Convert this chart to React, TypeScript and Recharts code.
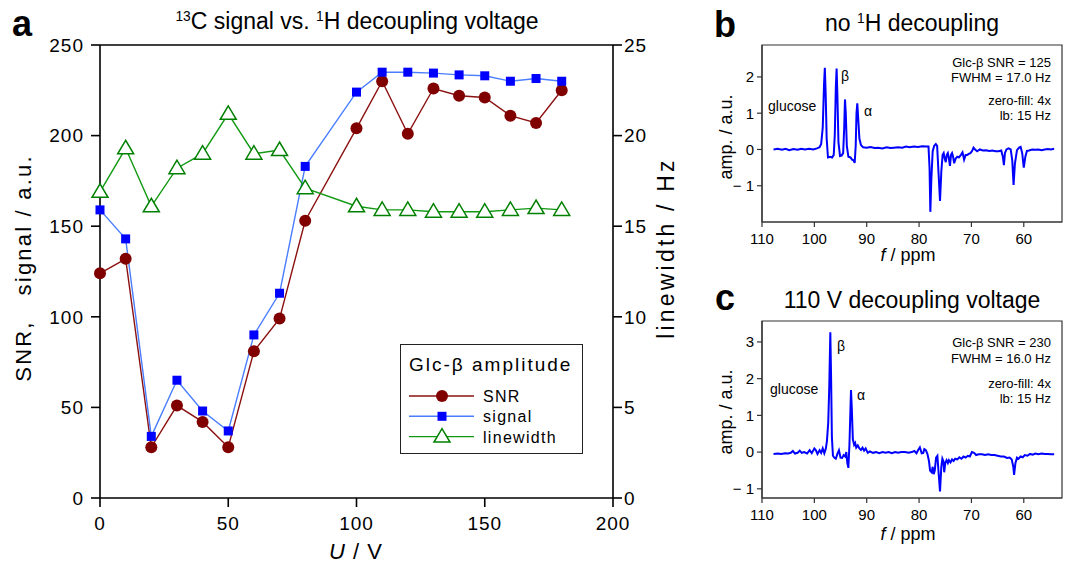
import React from 'react';
import { LineChart, Line, XAxis, YAxis, ReferenceArea, ReferenceLine, Legend } from 'recharts';

// panel a: Glc-beta amplitude vs decoupling voltage
const voltage = [0, 10, 20, 30, 40, 50, 60, 70, 80, 100, 110, 120, 130, 140, 150, 160, 170, 180];
const snr = [124, 132, 28, 51, 42, 28, 81, 99, 153, 204, 230, 201, 226, 222, 221, 211, 207, 225];
const signal = [159, 143, 34, 65, 48, 37, 90, 113, 183, 224, 235, 235, 234.5, 233.5, 233, 230, 231.5, 230];
const linewidth = [16.9, 19.3, 16.1, 18.2, 19.0, 21.2, 19.0, 19.2, 17.1, 16.1, 15.9, 15.9, 15.8, 15.8, 15.8, 15.9, 16.0, 15.9];

const voltTicks = [0, 50, 100, 150, 200];
const leftTicks = [0, 50, 100, 150, 200, 250];
const rightTicks = [0, 5, 10, 15, 20, 25];

// panel b: spectrum without 1H decoupling
const ppmB = [
  107.8, 107.0, 106.2, 105.5, 104.8, 104.0, 103.2, 102.5, 101.8, 101.0, 100.2, 99.5, 99.0, 98.7, 98.4, 98.15, 98.0,
  97.85, 97.65, 97.4, 97.0, 96.6, 96.3, 96.1, 95.9, 95.75, 95.6, 95.4, 95.1, 94.8, 94.5, 94.3, 94.15, 94.0, 93.8,
  93.5, 93.1, 92.8, 92.5, 92.3, 92.1, 91.95, 91.8, 91.6, 91.4, 91.1, 90.7, 90.0, 89.3, 88.5, 87.8, 87.0, 86.2, 85.5,
  84.8, 84.0, 83.2, 82.5, 81.8, 81.0, 80.2, 79.4, 78.6, 78.2, 78.0, 77.85, 77.65, 77.4, 77.1, 76.8, 76.55, 76.3,
  76.0, 75.75, 75.5, 75.3, 75.1, 74.9, 74.7, 74.5, 74.3, 74.1, 73.9, 73.7, 73.5, 73.3, 73.0, 72.7, 72.4, 72.0, 71.7,
  71.4, 71.1, 70.8, 70.5, 70.2, 69.9, 69.6, 69.3, 68.9, 68.4, 67.8, 67.2, 66.6, 66.0, 65.4, 64.8, 64.3, 64.0, 63.8,
  63.6, 63.3, 62.9, 62.5, 62.2, 61.95, 61.7, 61.3, 60.9, 60.6, 60.3, 60.0, 59.7, 59.4, 59.0, 58.4, 57.8, 57.2, 56.6,
  56.0, 55.4, 54.8, 54.2,
];
const ampB = [
  0.0, 0.02, -0.01, 0.02, -0.02, 0.01, -0.01, 0.02, 0.0, 0.02, 0.0, 0.03, 0.06, 0.15, 0.6, 1.8, 2.25,
  1.6, 0.3, -0.22, -0.2, -0.22, -0.15, 0.4, 1.7, 2.23, 1.5, 0.2, -0.18, -0.17, -0.1, 0.6, 1.38, 1.0, 0.1,
  -0.2, -0.22, -0.28, -0.3, -0.37, 0.1, 1.0, 1.27, 0.8, 0.3, 0.12, 0.06, 0.05, 0.07, 0.04, 0.05, 0.03, 0.06, 0.04,
  0.05, 0.06, 0.05, 0.08, 0.06, 0.08, 0.07, 0.09, 0.08, 0.08, -0.5, -1.72, -0.8, -0.05, 0.1, 0.15, 0.1, -0.6,
  -1.42, -0.6, -0.15, -0.1, -0.25, -0.35, -0.15, -0.1, -0.25, -0.45, -0.15, -0.1, -0.2, -0.38, -0.25, -0.2, -0.22, -0.15, -0.08,
  -0.28, -0.15, -0.15, -0.12, -0.1, -0.05, 0.05, 0.0, -0.05, 0.0, -0.03, -0.02, -0.04, -0.03, -0.05, -0.05, -0.03, -0.2, -0.43,
  -0.1, 0.0, 0.03, 0.0, -0.3, -0.98, -0.4, -0.02, 0.05, 0.07, -0.1, -0.5, -0.2, -0.04, -0.03, 0.0, -0.01, 0.0, -0.02,
  0.0, 0.01, 0.0, 0.02,
];

// panel c: spectrum at 110 V decoupling
const ppmC = [
  107.8, 107.0, 106.3, 105.6, 105.0, 104.5, 104.1, 103.7, 103.2, 102.8, 102.4, 101.9, 101.4, 100.9, 100.5, 100.0,
  99.7, 99.4, 99.0, 98.7, 98.4, 98.1, 97.8, 97.6, 97.35, 97.15, 96.95, 96.8, 96.65, 96.45, 96.2, 95.9, 95.6, 95.3,
  95.0, 94.7, 94.4, 94.1, 93.9, 93.7, 93.5, 93.3, 93.1, 93.0, 92.85, 92.65, 92.4, 92.2, 92.0, 91.7, 91.4, 91.1, 90.8,
  90.5, 90.2, 89.8, 89.4, 88.8, 88.2, 87.6, 87.0, 86.4, 85.8, 85.2, 84.6, 84.0, 83.4, 82.7, 82.0, 81.4, 80.9, 80.5,
  80.2, 79.85, 79.5, 79.2, 79.0, 78.7, 78.4, 78.1, 77.9, 77.6, 77.4, 77.2, 77.0, 76.75, 76.5, 76.3, 76.0, 75.75,
  75.55, 75.35, 75.2, 75.0, 74.75, 74.5, 74.3, 74.0, 73.7, 73.4, 73.1, 72.7, 72.3, 71.9, 71.5, 71.1, 70.7, 70.3,
  69.9, 69.5, 69.1, 68.6, 68.0, 67.4, 66.8, 66.2, 65.6, 65.0, 64.4, 63.8, 63.2, 62.7, 62.3, 62.0, 61.85, 61.6, 61.3,
  61.0, 60.6, 60.2, 59.8, 59.3, 58.8, 58.3, 57.8, 57.2, 56.6, 56.0, 55.4, 54.8, 54.2,
];
const ampC = [
  -0.05, -0.04, -0.05, -0.03, -0.04, -0.02, 0.03, -0.04, -0.02, 0.04, -0.02, 0.0, -0.04, 0.05, -0.03, 0.1,
  0.05, -0.05, 0.05, -0.02, 0.1, -0.03, 0.1, 0.3, 0.8, 1.8, 3.26, 2.0, 0.4, -0.1, -0.15, -0.18, -0.05, 0.05,
  -0.15, -0.16, -0.08, -0.12, 0.0, -0.3, -0.43, 0.2, 1.2, 1.69, 1.2, 0.35, 0.2, 0.25, 0.12, 0.18, 0.1, 0.06, 0.12,
  0.04, 0.1, -0.02, 0.02, -0.02, 0.0, -0.03, 0.0, -0.02, 0.0, -0.03, 0.0, -0.02, 0.0, 0.0, -0.02, 0.0, 0.03, -0.03,
  0.05, 0.13, -0.03, -0.02, 0.08, 0.05, -0.05, -0.25, -0.5, -0.55, -0.4, -0.6, -0.5, -0.15, -0.1, -0.5, -1.07, -0.4,
  -0.18, -0.25, -0.55, -0.3, -0.22, -0.3, -0.22, -0.28, -0.2, -0.24, -0.18, -0.2, -0.14, -0.18, -0.12, -0.15, -0.1, -0.12,
  0.0, -0.02, -0.08, -0.06, -0.06, -0.08, -0.06, -0.08, -0.08, -0.1, -0.12, -0.12, -0.16, -0.15, -0.2, -0.4, -0.62, -0.3, -0.15,
  -0.18, -0.12, -0.14, -0.08, -0.1, -0.05, -0.07, -0.04, -0.06, -0.04, -0.05, -0.05, -0.06, -0.06,
];

const ppmTicks = [60, 70, 80, 90, 100, 110];
const ampTicksB = [-1, 0, 1, 2];
const ampTicksC = [-1, 0, 1, 2, 3];

const FONT = '"Liberation Sans", Arial, Helvetica, sans-serif';
const FRAME = '#333';

const sweep = voltage.map((u, i) => ({ u, snr: snr[i], signal: signal[i], linewidth: linewidth[i] }));
const specB = ppmB.map((ppm, i) => ({ ppm, amp: ampB[i] }));
const specC = ppmC.map((ppm, i) => ({ ppm, amp: ampC[i] }));

const minus = (v: number) => (v < 0 ? '\u2212 ' + Math.abs(v) : String(v));

type TxtProps = {
  x: number;
  y: number;
  size: number;
  align?: 'left' | 'center' | 'right';
  rotate?: boolean;
  bold?: boolean;
  ls?: number;
  children: React.ReactNode;
};

function Txt({ x, y, size, align = 'center', rotate, bold, ls = 0, children }: TxtProps) {
  const tx = align === 'left' ? '0' : align === 'right' ? '-100%' : '-50%';
  return (
    <div
      style={{
        position: 'absolute',
        left: x,
        top: y,
        transform: `translate(${tx}, -50%)${rotate ? ' rotate(-90deg)' : ''}`,
        fontSize: size,
        fontWeight: bold ? 700 : 400,
        letterSpacing: ls,
        lineHeight: 1,
        whiteSpace: 'pre',
        color: '#000',
        fontFamily: FONT,
      }}
    >
      {children}
    </div>
  );
}

const Sup = ({ children }: { children: React.ReactNode }) => (
  <span style={{ fontSize: '0.6em', position: 'relative', top: '-0.55em' }}>{children}</span>
);

const Circle = (p: any) => <circle key={p.key} cx={p.cx} cy={p.cy} r={6} fill="#800000" />;
const Square = (p: any) => <rect key={p.key} x={p.cx - 4.5} y={p.cy - 4.5} width={9} height={9} fill="#0000ff" />;
const Triangle = (p: any) => (
  <polygon
    key={p.key}
    points={`${p.cx},${p.cy - 8} ${p.cx - 8},${p.cy + 5.5} ${p.cx + 8},${p.cy + 5.5}`}
    fill="#fff"
    stroke="#008000"
    strokeWidth={1.5}
  />
);

const LEGEND = [
  { name: 'SNR', line: '#8b1010', mark: 'circle' },
  { name: 'signal', line: '#4a7dff', mark: 'square' },
  { name: 'linewidth', line: '#119911', mark: 'triangle' },
];

function LegendBox() {
  return (
    <div
      style={{
        width: 183,
        height: 110,
        boxSizing: 'border-box',
        border: '1.5px solid #222',
        background: '#fff',
        position: 'relative',
        fontFamily: FONT,
      }}
    >
      <div style={{ position: 'absolute', left: 8, top: 10, fontSize: 19, letterSpacing: 2, lineHeight: 1 }}>
        Glc-β amplitude
      </div>
      <svg width={180} height={110} style={{ position: 'absolute', left: 0, top: 0 }}>
        {LEGEND.map((e, i) => {
          const y = 51 + i * 20.3;
          return (
            <g key={e.name}>
              <line x1={8} x2={73} y1={y} y2={y} stroke={e.line} strokeWidth={1.4} />
              {e.mark === 'circle' && <Circle cx={41} cy={y} />}
              {e.mark === 'square' && <Square cx={41} cy={y} />}
              {e.mark === 'triangle' && <Triangle cx={41} cy={y} />}
              <text x={82} y={y + 6} fontSize={16} letterSpacing={1.3} fontFamily={FONT}>
                {e.name}
              </text>
            </g>
          );
        })}
      </svg>
    </div>
  );
}

function SweepChart() {
  const tick = { fontSize: 19, fill: '#000', fontFamily: FONT, letterSpacing: 1 };
  const axis = { stroke: '#000', strokeWidth: 1.6 };
  return (
    <LineChart width={700} height={562} data={sweep} margin={{ top: 45, right: 27, bottom: 24, left: 40 }}>
      <XAxis
        dataKey="u"
        type="number"
        domain={[0, 200]}
        ticks={voltTicks}
        tick={tick}
        axisLine={axis}
        tickLine={axis}
        tickSize={9}
        tickMargin={10}
        height={40}
      />
      <YAxis
        yAxisId="left"
        domain={[0, 250]}
        ticks={leftTicks}
        tick={tick}
        axisLine={axis}
        tickLine={axis}
        tickSize={9}
        tickMargin={7}
        width={60}
      />
      <YAxis
        yAxisId="right"
        orientation="right"
        domain={[0, 25]}
        ticks={rightTicks}
        tick={tick}
        axisLine={axis}
        tickLine={axis}
        tickSize={9}
        tickMargin={2}
        width={60}
      />
      <ReferenceLine yAxisId="left" y={250} stroke="#000" strokeWidth={1.6} />
      <Line
        yAxisId="left"
        dataKey="snr"
        name="SNR"
        stroke="#8b1010"
        strokeWidth={1.4}
        dot={Circle}
        isAnimationActive={false}
      />
      <Line
        yAxisId="left"
        dataKey="signal"
        name="signal"
        stroke="#4a7dff"
        strokeWidth={1.4}
        dot={Square}
        isAnimationActive={false}
      />
      <Line
        yAxisId="right"
        dataKey="linewidth"
        name="linewidth"
        stroke="#119911"
        strokeWidth={1.4}
        dot={Triangle}
        isAnimationActive={false}
      />
      <Legend
        layout="horizontal"
        verticalAlign="middle"
        align="center"
        content={() => <LegendBox />}
        wrapperStyle={{ left: 400, top: 344, width: 183, height: 110 }}
      />
    </LineChart>
  );
}

function Spectrum({ data, domain, ticks, height, top, bottom }: any) {
  const tick = { fontSize: 15, fill: '#000', fontFamily: FONT };
  const axis = { stroke: FRAME, strokeWidth: 1.2 };
  return (
    <LineChart width={370} height={height} data={data} margin={{ top, right: 8, bottom, left: 22 }}>
      <XAxis
        dataKey="ppm"
        type="number"
        domain={[52.7, 110]}
        reversed
        allowDataOverflow
        ticks={ppmTicks}
        tick={tick}
        axisLine={axis}
        tickLine={axis}
        tickSize={5}
        tickMargin={6}
        height={30}
      />
      <YAxis
        domain={domain}
        allowDataOverflow
        ticks={ticks}
        tickFormatter={minus}
        tick={tick}
        axisLine={axis}
        tickLine={axis}
        tickSize={5}
        tickMargin={3}
        width={40}
      />
      <ReferenceArea x1={52.7} x2={110} y1={domain[0]} y2={domain[1]} fill="none" stroke={FRAME} strokeWidth={1.2} />
      <Line dataKey="amp" stroke="#0000ff" strokeWidth={2} dot={false} type="linear" isAnimationActive={false} />
    </LineChart>
  );
}

export default function App() {
  return (
    <div style={{ position: 'absolute', left: 0, top: 0, width: 1070, height: 562, background: '#fff', fontFamily: FONT }}>
      <div style={{ position: 'absolute', left: 0, top: 0 }}>
        <SweepChart />
      </div>
      <div style={{ position: 'absolute', left: 700, top: 0 }}>
        <Spectrum data={specB} domain={[-2.0, 2.88]} ticks={ampTicksB} height={280} top={45} bottom={28} />
      </div>
      <div style={{ position: 'absolute', left: 700, top: 280 }}>
        <Spectrum data={specC} domain={[-1.25, 3.57]} ticks={ampTicksC} height={282} top={41} bottom={34} />
      </div>

      {/* panel a texts */}
      <Txt x={22} y={24} size={36} bold>a</Txt>
      <Txt x={357} y={21} size={23}>
        <Sup>13</Sup>C signal vs. <Sup>1</Sup>H decoupling voltage
      </Txt>
      <Txt x={24} y={268} size={22} rotate ls={2.2}>{'SNR,   signal / a.u.'}</Txt>
      <Txt x={666} y={248} size={23} rotate ls={3.2}>linewidth / Hz</Txt>
      <Txt x={356} y={552} size={22} ls={1}>
        <i>U</i> / V
      </Txt>

      {/* panel b texts */}
      <Txt x={725} y={25} size={36} bold>b</Txt>
      <Txt x={912} y={23} size={23}>
        no <Sup>1</Sup>H decoupling
      </Txt>
      <Txt x={726} y={137} size={18} rotate>amp. / a.u.</Txt>
      <Txt x={908} y={255} size={18}>
        <i>f</i> / ppm
      </Txt>
      <Txt x={1051} y={62} size={13} align="right">Glc-β SNR = 125</Txt>
      <Txt x={1051} y={77} size={13} align="right">FWHM = 17.0 Hz</Txt>
      <Txt x={1051} y={100} size={13} align="right">zero-fill: 4x</Txt>
      <Txt x={1051} y={115} size={13} align="right">lb: 15 Hz</Txt>
      <Txt x={768} y={106} size={14} align="left">glucose</Txt>
      <Txt x={845} y={76} size={14}>β</Txt>
      <Txt x={868} y={111} size={14}>α</Txt>

      {/* panel c texts */}
      <Txt x={725} y={298} size={36} bold>c</Txt>
      <Txt x={912} y={300} size={23}>110 V decoupling voltage</Txt>
      <Txt x={726} y={412} size={18} rotate>amp. / a.u.</Txt>
      <Txt x={908} y={534} size={18}>
        <i>f</i> / ppm
      </Txt>
      <Txt x={1051} y={342} size={13} align="right">Glc-β SNR = 230</Txt>
      <Txt x={1051} y={358} size={13} align="right">FWHM = 16.0 Hz</Txt>
      <Txt x={1051} y={383} size={13} align="right">zero-fill: 4x</Txt>
      <Txt x={1051} y={398} size={13} align="right">lb: 15 Hz</Txt>
      <Txt x={770} y={389} size={14} align="left">glucose</Txt>
      <Txt x={841} y={346} size={14}>β</Txt>
      <Txt x={861} y={395} size={14}>α</Txt>
    </div>
  );
}
